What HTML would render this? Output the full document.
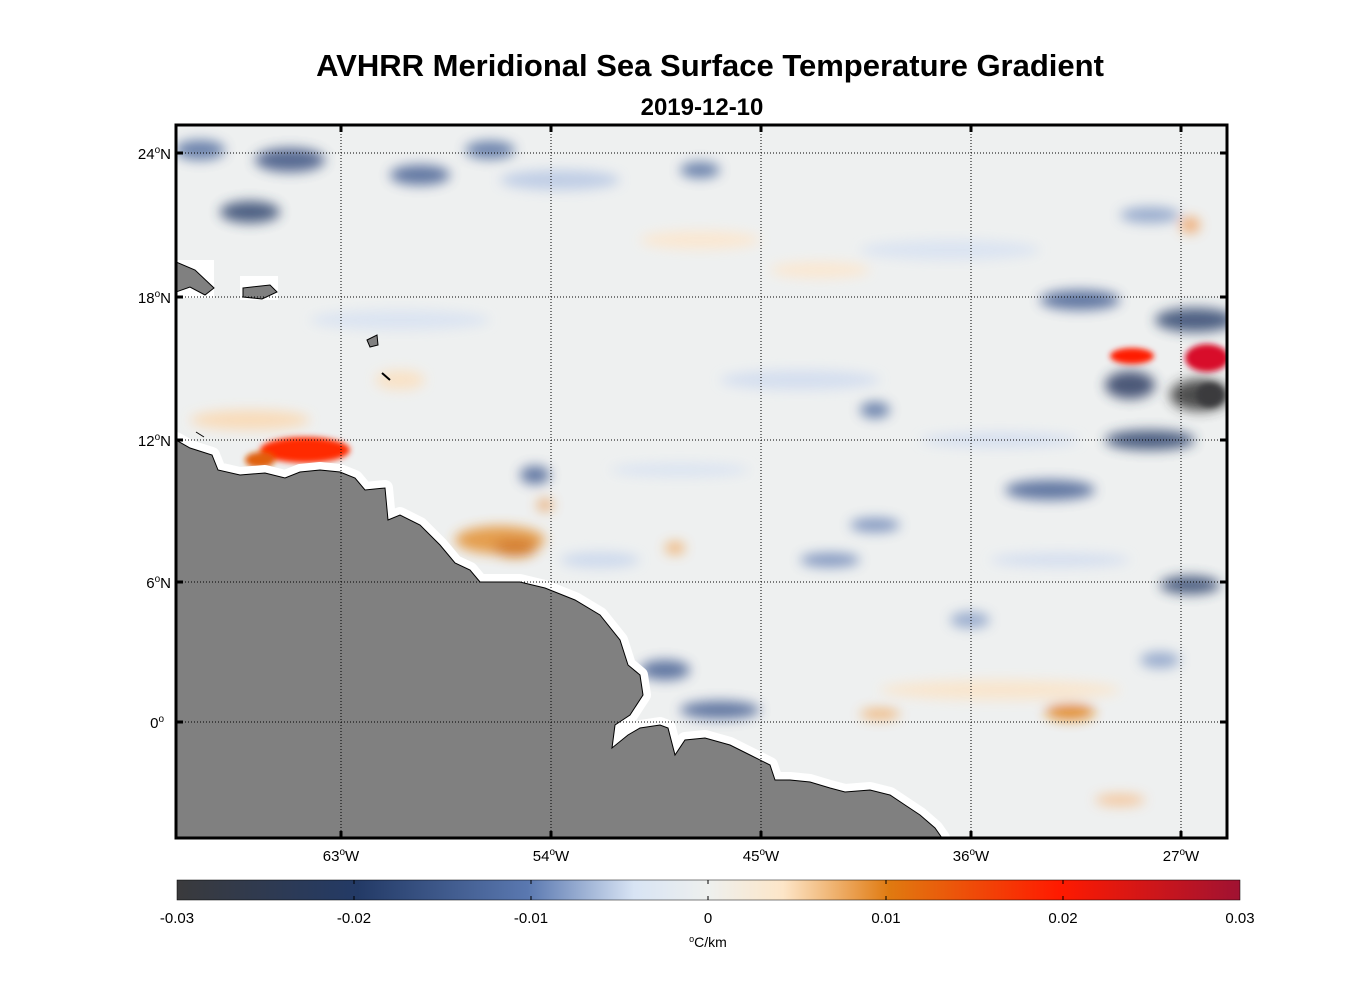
<!DOCTYPE html>
<html><head><meta charset="utf-8"><style>
body{margin:0;background:#fff;width:1356px;height:1000px;overflow:hidden;font-family:"Liberation Sans",sans-serif}
</style></head><body>
<svg width="1356" height="1000" xmlns="http://www.w3.org/2000/svg" font-family="Liberation Sans, sans-serif">
<defs>
<filter id="b" x="-50%" y="-50%" width="200%" height="200%"><feGaussianBlur stdDeviation="6"/></filter>
<filter id="b2" x="-50%" y="-50%" width="200%" height="200%"><feGaussianBlur stdDeviation="3"/></filter>
<clipPath id="c"><rect x="176" y="125" width="1051" height="713"/></clipPath>
<linearGradient id="cb" x1="0" x2="1">
<stop offset="0" stop-color="#3a3a3c"/>
<stop offset="0.17" stop-color="#233a66"/>
<stop offset="0.33" stop-color="#5a78b0"/>
<stop offset="0.43" stop-color="#d8e4f4"/>
<stop offset="0.5" stop-color="#eef0ee"/>
<stop offset="0.57" stop-color="#fde6c8"/>
<stop offset="0.67" stop-color="#e07a10"/>
<stop offset="0.83" stop-color="#ff1a00"/>
<stop offset="1" stop-color="#a01232"/>
</linearGradient>
</defs>
<text x="710" y="76" text-anchor="middle" font-size="31" font-weight="bold">AVHRR Meridional Sea Surface Temperature Gradient</text>
<text x="702" y="115" text-anchor="middle" font-size="24" font-weight="bold">2019-12-10</text>
<g clip-path="url(#c)">
<rect x="176" y="125" width="1051" height="713" fill="#eef0f0"/>
<g filter="url(#b)" opacity="0.85">
<ellipse cx="290" cy="160" rx="35" ry="12" fill="#3d5282"/>
<ellipse cx="420" cy="175" rx="30" ry="10" fill="#4a6294"/>
<ellipse cx="250" cy="212" rx="30" ry="11" fill="#33466f"/>
<ellipse cx="200" cy="150" rx="25" ry="10" fill="#5570a0"/>
<ellipse cx="490" cy="150" rx="25" ry="9" fill="#5570a0"/>
<ellipse cx="560" cy="180" rx="60" ry="10" fill="#b8c8e4"/>
<ellipse cx="700" cy="170" rx="20" ry="8" fill="#5570a0"/>
<ellipse cx="1080" cy="300" rx="40" ry="10" fill="#4a6294"/>
<ellipse cx="1195" cy="320" rx="40" ry="12" fill="#33466f"/>
<ellipse cx="1130" cy="385" rx="25" ry="14" fill="#2d3d63"/>
<ellipse cx="1200" cy="395" rx="30" ry="16" fill="#333"/>
<ellipse cx="1150" cy="440" rx="45" ry="10" fill="#33466f"/>
<ellipse cx="1050" cy="490" rx="45" ry="10" fill="#4a6294"/>
<ellipse cx="1190" cy="585" rx="30" ry="9" fill="#33466f"/>
<ellipse cx="875" cy="410" rx="15" ry="8" fill="#5570a0"/>
<ellipse cx="875" cy="525" rx="25" ry="7" fill="#6f88b8"/>
<ellipse cx="830" cy="560" rx="30" ry="7" fill="#6f88b8"/>
<ellipse cx="535" cy="475" rx="15" ry="9" fill="#4a6294"/>
<ellipse cx="665" cy="670" rx="25" ry="10" fill="#4a6294"/>
<ellipse cx="720" cy="710" rx="40" ry="9" fill="#4a6294"/>
<ellipse cx="970" cy="620" rx="20" ry="8" fill="#8aa0c8"/>
<ellipse cx="1160" cy="660" rx="20" ry="8" fill="#8aa0c8"/>
<ellipse cx="600" cy="560" rx="40" ry="8" fill="#c8d6ec"/>
<ellipse cx="800" cy="380" rx="80" ry="10" fill="#d0dcef"/>
<ellipse cx="950" cy="250" rx="90" ry="10" fill="#d8e2f2"/>
<ellipse cx="400" cy="320" rx="90" ry="10" fill="#d8e2f2"/>
<ellipse cx="1000" cy="440" rx="80" ry="7" fill="#d0dcef"/>
<ellipse cx="680" cy="470" rx="70" ry="7" fill="#d8e2f2"/>
<ellipse cx="1060" cy="560" rx="70" ry="7" fill="#d0dcef"/>
<ellipse cx="1150" cy="215" rx="30" ry="8" fill="#8aa0c8"/>
<ellipse cx="1000" cy="690" rx="120" ry="10" fill="#fbe4c8"/>
<ellipse cx="1070" cy="712" rx="25" ry="8" fill="#e07a10"/>
<ellipse cx="880" cy="714" rx="20" ry="5" fill="#f0a860"/>
<ellipse cx="1120" cy="800" rx="25" ry="6" fill="#f5c090"/>
<ellipse cx="500" cy="540" rx="45" ry="14" fill="#e39030"/>
<ellipse cx="515" cy="548" rx="22" ry="9" fill="#d06a10"/>
<ellipse cx="675" cy="548" rx="10" ry="6" fill="#f0a860"/>
<ellipse cx="545" cy="505" rx="8" ry="6" fill="#e8a060"/>
<ellipse cx="250" cy="420" rx="60" ry="10" fill="#fbd8b0"/>
<ellipse cx="400" cy="380" rx="25" ry="10" fill="#fbe0c0"/>
<ellipse cx="700" cy="240" rx="60" ry="9" fill="#fde6cc"/>
<ellipse cx="820" cy="270" rx="50" ry="8" fill="#fde6cc"/>
<ellipse cx="1190" cy="225" rx="10" ry="8" fill="#f0a060"/>
</g>
<g filter="url(#b2)">
<ellipse cx="305" cy="450" rx="45" ry="13" fill="#ff2a00"/>
<ellipse cx="260" cy="460" rx="15" ry="8" fill="#e06010"/>
<ellipse cx="1132" cy="356" rx="22" ry="8" fill="#ff1a00"/>
<ellipse cx="1207" cy="358" rx="22" ry="14" fill="#d8102a"/>
<ellipse cx="1210" cy="395" rx="14" ry="12" fill="#3a3a3c"/>
</g>
<polygon points="176,440 190,448 212,455 218,470 240,475 265,473 285,478 300,472 320,470 340,472 355,478 365,490 385,488 388,520 400,515 420,525 440,545 455,563 470,570 480,582 520,582 545,588 575,600 600,615 620,640 628,665 640,675 643,695 630,715 615,725 612,748 628,735 640,728 660,725 668,728 675,755 685,740 705,738 730,745 750,755 770,765 775,780 790,780 810,782 830,788 845,792 870,790 890,795 905,805 920,815 935,828 942,838 176,838" fill="#fff" stroke="#fff" stroke-width="16" stroke-linejoin="round"/>
<polygon points="176,440 190,448 212,455 218,470 240,475 265,473 285,478 300,472 320,470 340,472 355,478 365,490 385,488 388,520 400,515 420,525 440,545 455,563 470,570 480,582 520,582 545,588 575,600 600,615 620,640 628,665 640,675 643,695 630,715 615,725 612,748 628,735 640,728 660,725 668,728 675,755 685,740 705,738 730,745 750,755 770,765 775,780 790,780 810,782 830,788 845,792 870,790 890,795 905,805 920,815 935,828 942,838 176,838" fill="#808080" stroke="#000" stroke-width="1"/>
<rect x="240" y="276" width="38" height="24" fill="#fff"/>
<polygon points="243,288 270,285 277,292 262,299 243,297" fill="#808080" stroke="#000"/>
<rect x="176" y="260" width="38" height="38" fill="#fff"/>
<polygon points="176,262 195,270 214,288 205,295 190,287 176,292" fill="#808080" stroke="#000"/>
<polygon points="367,340 377,335 378,345 370,347" fill="#808080" stroke="#000"/>
<path d="M382,373 L390,380" stroke="#000" stroke-width="2"/>
<path d="M196,432 L204,437" stroke="#000"/>
<g stroke="#000" stroke-width="1" stroke-dasharray="1,2" fill="none">
<line x1="341" y1="125" x2="341" y2="838"/><line x1="551" y1="125" x2="551" y2="838"/><line x1="761" y1="125" x2="761" y2="838"/><line x1="971" y1="125" x2="971" y2="838"/><line x1="1181" y1="125" x2="1181" y2="838"/>
<line x1="176" y1="153" x2="1227" y2="153"/><line x1="176" y1="297" x2="1227" y2="297"/><line x1="176" y1="440" x2="1227" y2="440"/><line x1="176" y1="582" x2="1227" y2="582"/><line x1="176" y1="722" x2="1227" y2="722"/>
</g>
</g>
<rect x="176" y="125" width="1051" height="713" fill="none" stroke="#000" stroke-width="3"/>
<g stroke="#000" stroke-width="3">
<line x1="341" y1="125" x2="341" y2="132"/><line x1="551" y1="125" x2="551" y2="132"/><line x1="761" y1="125" x2="761" y2="132"/><line x1="971" y1="125" x2="971" y2="132"/><line x1="1181" y1="125" x2="1181" y2="132"/>
<line x1="341" y1="831" x2="341" y2="838"/><line x1="551" y1="831" x2="551" y2="838"/><line x1="761" y1="831" x2="761" y2="838"/><line x1="971" y1="831" x2="971" y2="838"/><line x1="1181" y1="831" x2="1181" y2="838"/>
<line x1="176" y1="153" x2="183" y2="153"/><line x1="176" y1="297" x2="183" y2="297"/><line x1="176" y1="440" x2="183" y2="440"/><line x1="176" y1="582" x2="183" y2="582"/><line x1="176" y1="722" x2="183" y2="722"/>
<line x1="1220" y1="153" x2="1227" y2="153"/><line x1="1220" y1="297" x2="1227" y2="297"/><line x1="1220" y1="440" x2="1227" y2="440"/><line x1="1220" y1="582" x2="1227" y2="582"/><line x1="1220" y1="722" x2="1227" y2="722"/>
</g>
<g font-size="15" text-anchor="middle">
<text x="341" y="861">63<tspan dy="-6" font-size="10">o</tspan><tspan dy="6">W</tspan></text>
<text x="551" y="861">54<tspan dy="-6" font-size="10">o</tspan><tspan dy="6">W</tspan></text>
<text x="761" y="861">45<tspan dy="-6" font-size="10">o</tspan><tspan dy="6">W</tspan></text>
<text x="971" y="861">36<tspan dy="-6" font-size="10">o</tspan><tspan dy="6">W</tspan></text>
<text x="1181" y="861">27<tspan dy="-6" font-size="10">o</tspan><tspan dy="6">W</tspan></text>
</g>
<g font-size="15" text-anchor="end">
<text x="171" y="159">24<tspan dy="-6" font-size="10">o</tspan><tspan dy="6">N</tspan></text>
<text x="171" y="303">18<tspan dy="-6" font-size="10">o</tspan><tspan dy="6">N</tspan></text>
<text x="171" y="446">12<tspan dy="-6" font-size="10">o</tspan><tspan dy="6">N</tspan></text>
<text x="171" y="588">6<tspan dy="-6" font-size="10">o</tspan><tspan dy="6">N</tspan></text>
<text x="164" y="728">0<tspan dy="-6" font-size="10">o</tspan></text>
</g>
<rect x="177" y="880" width="1063" height="20" fill="url(#cb)" stroke="#000" stroke-width="0.5"/>
<g stroke="#000" stroke-width="1">
<line x1="354" y1="880" x2="354" y2="884"/><line x1="531" y1="880" x2="531" y2="884"/><line x1="708" y1="880" x2="708" y2="884"/><line x1="886" y1="880" x2="886" y2="884"/><line x1="1063" y1="880" x2="1063" y2="884"/>
<line x1="354" y1="896" x2="354" y2="900"/><line x1="531" y1="896" x2="531" y2="900"/><line x1="708" y1="896" x2="708" y2="900"/><line x1="886" y1="896" x2="886" y2="900"/><line x1="1063" y1="896" x2="1063" y2="900"/>
</g>
<g font-size="15" text-anchor="middle">
<text x="177" y="923">-0.03</text><text x="354" y="923">-0.02</text><text x="531" y="923">-0.01</text><text x="708" y="923">0</text><text x="886" y="923">0.01</text><text x="1063" y="923">0.02</text><text x="1240" y="923">0.03</text>
<text x="708" y="947" font-size="14"><tspan dy="-5" font-size="9">o</tspan><tspan dy="5">C/km</tspan></text>
</g>
</svg>
</body></html>
